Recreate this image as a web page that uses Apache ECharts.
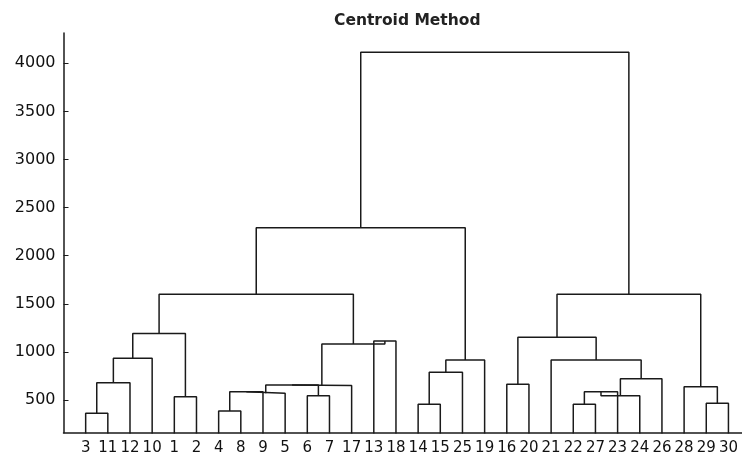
<!DOCTYPE html>
<html>
<head>
<meta charset="utf-8">
<script src="https://cdn.jsdelivr.net/npm/echarts@6/dist/echarts.min.js"></script>
<style>
  html, body { margin: 0; padding: 0; background: #ffffff; }
  #chart { width: 742px; height: 458px; }
</style>
</head>
<body>
<div id="chart"></div>
<script>
// Leaf order along the bottom of the dendrogram (observation numbers)
const leafLabels = [3, 11, 12, 10, 1, 2, 4, 8, 9, 5, 6, 7, 17, 13, 18, 14, 15, 25, 19, 16, 20, 21, 22, 27, 23, 24, 26, 28, 29, 30];

// Linkage table: observations are 1..30, merge k (1-based) creates cluster 30 + k
const mergeLeft   = [3, 31, 32, 1, 33, 4, 36, 37, 6, 38, 40, 13, 41, 35, 14, 45, 46, 44, 16, 22, 50, 51, 52, 21, 49, 29, 28, 55, 48];
const mergeRight  = [11, 12, 10, 2, 34, 8, 9, 5, 7, 39, 17, 18, 42, 43, 15, 25, 19, 47, 20, 27, 23, 24, 26, 53, 54, 30, 56, 57, 58];
const mergeHeight = [362, 680, 934, 534, 1191, 386, 586, 570, 545, 656, 651, 1113, 1082, 1599, 455, 788, 916, 2291, 663, 455, 586, 545, 722, 916, 1152, 466, 638, 1599, 4114];

// Y-axis tick values
const yTicks = [500, 1000, 1500, 2000, 2500, 3000, 3500, 4000];

const nObs = leafLabels.length;
const FONT = 'DejaVu Sans';
const INK = '#1a1a1a';

// Node positions: leaves sit at 1..n, a cluster sits midway between its two children
const nodeX = {};
const nodeH = {};
leafLabels.forEach((obs, i) => { nodeX[obs] = i + 1; nodeH[obs] = 0; });
mergeLeft.forEach((l, k) => {
  const id = nObs + k + 1;
  const r = mergeRight[k];
  nodeX[id] = (nodeX[l] + nodeX[r]) / 2;
  nodeH[id] = mergeHeight[k];
});

// One U-shaped link per merge
const linkSeries = mergeLeft.map((l, k) => {
  const r = mergeRight[k];
  const h = mergeHeight[k];
  return {
    type: 'line',
    data: [[nodeX[l], nodeH[l]], [nodeX[l], h], [nodeX[r], h], [nodeX[r], nodeH[r]]],
    symbol: 'none',
    showSymbol: false,
    clip: true,
    silent: true,
    animation: false,
    lineStyle: { color: INK, width: 1.5 },
    z: 3
  };
});

const leafPositions = leafLabels.map((_, i) => i + 1);

const chart = echarts.init(document.getElementById('chart'), null, { renderer: 'canvas' });
chart.setOption({
  backgroundColor: '#ffffff',
  animation: false,
  title: {
    text: 'Centroid Method',
    left: 329,
    top: 8,
    textStyle: { fontFamily: FONT, fontSize: 15.5, fontWeight: 'bold', color: '#222' }
  },
  grid: {
    left: 63.5,
    right: -8.6,
    top: 33,
    bottom: 25.3,
    containLabel: false,
    outerBoundsMode: 'none'
  },
  xAxis: {
    type: 'value',
    min: 0,
    max: nObs + 1,
    axisLine: { show: true, onZero: false, lineStyle: { color: INK, width: 1.5 } },
    axisTick: { show: false },
    splitLine: { show: false },
    axisLabel: {
      customValues: leafPositions,
      formatter: v => String(leafLabels[Math.round(v) - 1]),
      fontFamily: FONT,
      fontSize: 15,
      color: '#111',
      margin: 8
    }
  },
  yAxis: {
    type: 'value',
    min: 160,
    max: 4315,
    axisLine: { show: true, onZero: false, lineStyle: { color: INK, width: 1.5 } },
    axisTick: {
      show: true,
      inside: true,
      length: 5,
      customValues: yTicks,
      lineStyle: { color: INK, width: 1 }
    },
    splitLine: { show: false },
    axisLabel: {
      customValues: yTicks,
      formatter: v => String(v),
      fontFamily: FONT,
      fontSize: 16,
      color: '#111',
      margin: 8
    }
  },
  series: linkSeries
});
</script>
</body>
</html>
